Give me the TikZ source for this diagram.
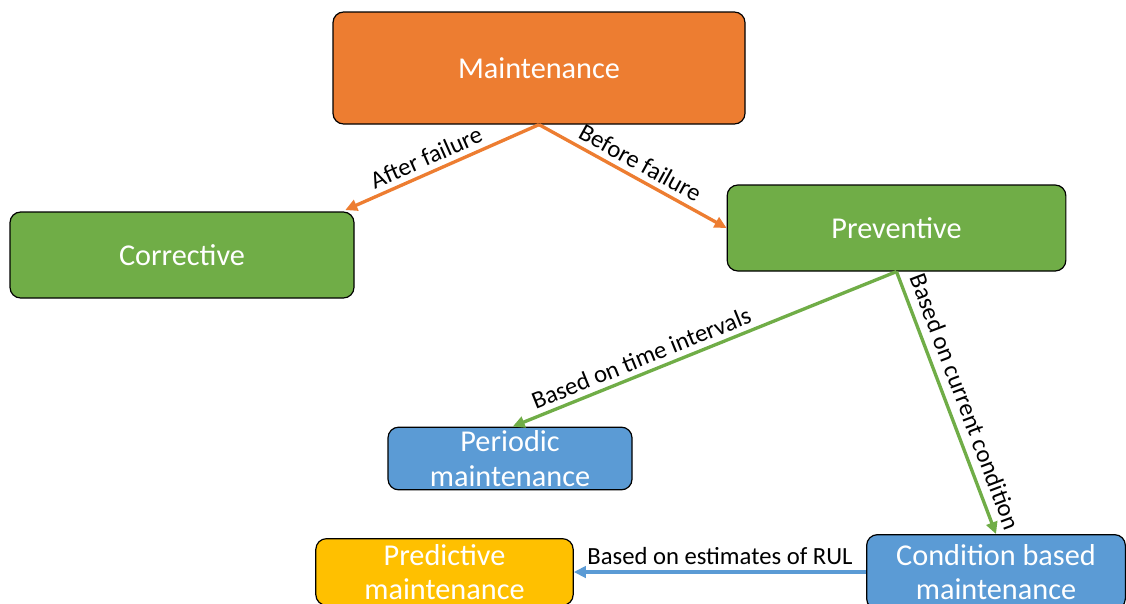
\documentclass[tikz,border=0pt]{standalone}
\usepackage{fontspec}
\setmainfont{Carlito}
\usetikzlibrary{arrows.meta,calc}
\definecolor{morange}{HTML}{ED7D31}
\definecolor{mgreen}{HTML}{70AD47}
\definecolor{mblue}{HTML}{5B9BD5}
\definecolor{myellow}{HTML}{FFC000}
\tikzset{
  box/.style={draw=black, line width=0.9pt, rounded corners=8pt, text=white,
    align=center, inner sep=0pt},
  bigtext/.style={font=\fontsize{22.7}{26}\selectfont},
  smalltext/.style={font=\fontsize{22.7}{26}\selectfont},
  link/.style={line width=2.5pt, -{Triangle[length=9pt,width=8.5pt]}},
  lbl/.style={font=\fontsize{18.5}{22}\selectfont, text=black, inner sep=4pt},
}
\begin{document}
\begin{tikzpicture}[x=0.75pt,y=-0.75pt]
\useasboundingbox (0,0) rectangle (1126,603);
\begin{scope}
\clip (0,0) rectangle (1126,603);
% boxes
\node[box, bigtext, fill=morange, minimum width=309pt, minimum height=84pt] (maint) at (539,68) {Maintenance};
\node[box, bigtext, fill=mgreen, minimum width=258pt, minimum height=64.5pt] (corr) at (182,255) {Corrective};
\node[box, bigtext, fill=mgreen, minimum width=254pt, minimum height=64.5pt] (prev) at (896.5,228) {Preventive};
\node[box, smalltext, fill=mblue, minimum width=183pt, minimum height=47pt] (peri) at (510,458.5) {Periodic\\maintenance};
\node[box, smalltext, fill=myellow, minimum width=193pt, minimum height=50pt] (pred) at (444.5,572) {Predictive\\maintenance};
\node[box, smalltext, fill=mblue, minimum width=194pt, minimum height=56pt] (cond) at (996,572) {Condition based\\maintenance};
% connectors
\draw[link, morange] (maint.south) -- ([xshift=-7pt,yshift=1pt]corr.north east)
  node[lbl, pos=0.55, above, sloped] {After failure};
\draw[link, morange] (maint.south) -- (prev.west)
  node[lbl, midway, above, sloped] {Before failure};
\draw[link, mgreen] (prev.south) -- ([xshift=2pt]peri.north)
  node[lbl, pos=0.65, above, sloped] {Based on time intervals};
\draw[link, mgreen] (prev.south) -- (cond.north)
  node[lbl, pos=0.52, above, sloped, inner sep=6pt] {Based on current condition};
\draw[link, mblue] (cond.west) -- (pred.east)
  node[lbl, midway, above] {Based on estimates of RUL};
\end{scope}
\end{tikzpicture}
\end{document}
